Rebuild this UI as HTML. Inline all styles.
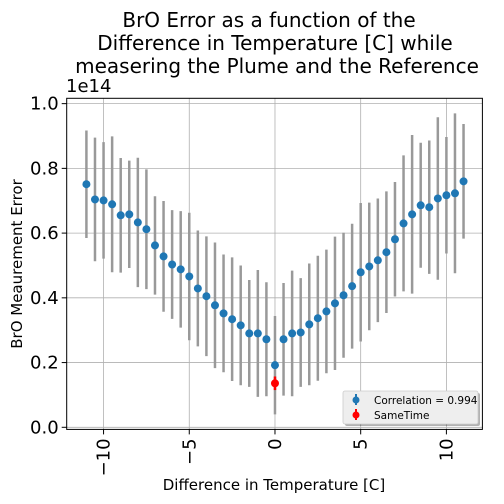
<!DOCTYPE html>
<html><head><meta charset="utf-8"><style>
body{margin:0;background:#fff;}
svg{display:block;font-family:"DejaVu Sans","Liberation Sans",sans-serif;}
</style></head><body>
<svg id="c" width="504" height="504" viewBox="0 0 504 504"></svg>
<script>
const xVals=[-11,-10.5,-10,-9.5,-9,-8.5,-8,-7.5,-7,-6.5,-6,-5.5,-5,-4.5,-4,-3.5,-3,-2.5,-2,-1.5,-1,-0.5,0,0.5,1,1.5,2,2.5,3,3.5,4,4.5,5,5.5,6,6.5,7,7.5,8,8.5,9,9.5,10,10.5,11];
const yVals=[0.751,0.704,0.701,0.689,0.655,0.658,0.633,0.612,0.562,0.528,0.503,0.488,0.466,0.429,0.405,0.377,0.352,0.334,0.315,0.290,0.290,0.272,0.192,0.272,0.290,0.293,0.318,0.337,0.358,0.383,0.408,0.436,0.479,0.497,0.516,0.541,0.581,0.630,0.658,0.686,0.680,0.707,0.717,0.723,0.760];
const yErr=[0.166,0.191,0.180,0.210,0.177,0.166,0.200,0.185,0.152,0.171,0.168,0.180,0.197,0.179,0.185,0.194,0.182,0.191,0.185,0.165,0.196,0.176,0.152,0.174,0.194,0.168,0.188,0.193,0.191,0.206,0.193,0.193,0.214,0.197,0.191,0.188,0.177,0.210,0.245,0.193,0.206,0.251,0.180,0.247,0.177];
const redX=[0];
const redY=[0.136];
const redErr=[0.021];
const xTicks=[-10,-5,0,5,10];
const xTickLabels=["\u221210","\u22125","0","5","10"];
const yTicks=[0,0.2,0.4,0.6,0.8,1.0];
const yTickLabels=["0.0","0.2","0.4","0.6","0.8","1.0"];

const L=66.7,R=482.4,T=98.3,B=429.4;
const xMin=-12.15,xMax=12.1,yMin=-0.0065,yMax=1.0165;
const sx=v=>L+(v-xMin)/(xMax-xMin)*(R-L);
const sy=v=>B-(v-yMin)/(yMax-yMin)*(B-T);
const svg=document.getElementById('c');
const NS='http://www.w3.org/2000/svg';
function mk(tag,attrs,parent){const e=document.createElementNS(NS,tag);for(const k in attrs)e.setAttribute(k,attrs[k]);(parent||svg).appendChild(e);return e;}

// title
const title=mk('text',{x:270,y:27,'text-anchor':'middle','font-size':20,fill:'#000'});


const tcx=[269,275,277];
["BrO Error as a function of the","Difference in Temperature [C] while","measering the Plume and the Reference"].forEach((s,i)=>{const t=mk('tspan',{x:tcx[i],dy:i?23:0},title);t.textContent=s;});

// grid
xTicks.forEach((v,i)=>{
 const g=mk('line',{x1:sx(v),x2:sx(v),y1:T,y2:B,stroke:'#b0b0b0','stroke-width':0.8});
 
 
 mk('line',{x1:sx(v),x2:sx(v),y1:B,y2:B+5,stroke:'#000','stroke-width':1});
 const t=mk('text',{x:0,y:0,'font-size':18,'text-anchor':'end',transform:`translate(${sx(v)+6},${B+9}) rotate(-90)`});
 t.textContent=xTickLabels[i];
 
 
});
yTicks.forEach((v,i)=>{
 const g=mk('line',{x1:L,x2:R,y1:sy(v),y2:sy(v),stroke:'#b0b0b0','stroke-width':0.8});
 
 
 mk('line',{x1:L-5,x2:L,y1:sy(v),y2:sy(v),stroke:'#000','stroke-width':1});
 const t=mk('text',{x:L-8,y:sy(v)+6,'font-size':18,'text-anchor':'end'});
 t.textContent=yTickLabels[i];
 
 
});
const off=mk('text',{x:66,y:92,'font-size':18});
off.textContent='1e14';



// series
xVals.forEach((x,i)=>{
 const e=mk('line',{x1:sx(x),x2:sx(x),y1:sy(yVals[i]+yErr[i]),y2:sy(yVals[i]-yErr[i]),stroke:'#999','stroke-width':2.5});
 
 
});
xVals.forEach((x,i)=>{
 const c=mk('circle',{cx:sx(x),cy:sy(yVals[i]),r:4,fill:'#1f77b4'});
 
 
});
redX.forEach((x,i)=>{
 const e=mk('line',{x1:sx(x),x2:sx(x),y1:sy(redY[i]+redErr[i]),y2:sy(redY[i]-redErr[i]),stroke:'#ff0000','stroke-width':2.5});
 
 
 const c=mk('circle',{cx:sx(x),cy:sy(redY[i]),r:4,fill:'#ff0000'});
 
 
});

// frame
const fr=mk('rect',{x:L,y:T,width:R-L,height:B-T,fill:'none',stroke:'#000','stroke-width':1});



// axis labels
const xl=mk('text',{x:274,y:490,'text-anchor':'middle','font-size':15});
xl.textContent='Difference in Temperature [C]';


const yl=mk('text',{x:0,y:0,'text-anchor':'middle','font-size':15,transform:'translate(22,264) rotate(-90)'});
yl.textContent='BrO Meaurement Error';



// legend
const lg=mk('g',{});


mk('rect',{x:345,y:393,width:135,height:33,rx:2,fill:'#000',opacity:0.3},lg);
mk('rect',{x:343,y:391,width:135,height:33,rx:2,fill:'#eeeeee',stroke:'#ccc','stroke-width':0.8},lg);
mk('line',{x1:356,x2:356,y1:394,y2:405,stroke:'#1f77b4','stroke-width':2},lg);
mk('circle',{cx:356,cy:400,r:3.5,fill:'#1f77b4'},lg);
mk('line',{x1:356,x2:356,y1:409,y2:420,stroke:'#ff0000','stroke-width':2},lg);
mk('circle',{cx:356,cy:415,r:3.5,fill:'#ff0000'},lg);
const l1=mk('text',{x:374,y:404,'font-size':10.5},lg);
l1.textContent='Correlation = 0.994';


const l2=mk('text',{x:374,y:419,'font-size':10.5},lg);
l2.textContent='SameTime';


</script>
</body></html>
